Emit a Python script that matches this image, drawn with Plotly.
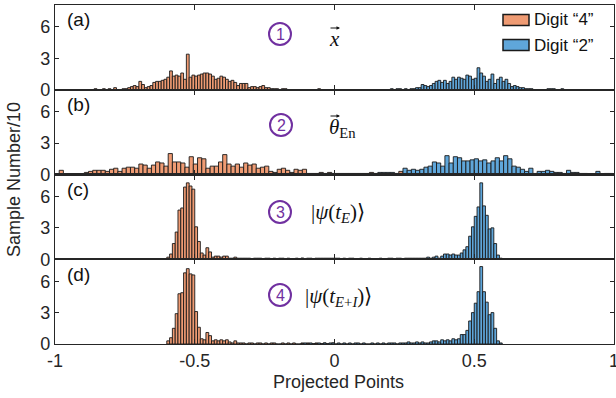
import plotly.graph_objects as go
from plotly.subplots import make_subplots

# ---------------- data (Sample Number / 10 per bin) ----------------
PANEL_LABELS = ["(a)", "(b)", "(c)", "(d)"]
CIRCLE_DIGITS = ["1", "2", "3", "4"]
SERIES_NAMES = ["Digit \u201c4\u201d", "Digit \u201c2\u201d"]
BIN_WIDTH = [0.01, 0.015, 0.01, 0.01]
X_TICKS = [-1, -0.5, 0, 0.5, 1]
X_TICK_TEXT = ["-1", "-0.5", "0", "0.5", "1"]
Y_TICKS = [0, 3, 6]

# panel (a)
A4_FIRST_EDGE = -0.86
A4 = [0.1, 0, 0, 0.1, 0, 0.1, 0, 0.2, 0, 0, 0.1, 0.1, 0.2, 0.3, 0.4, 0.3, 0.8, 0.5, 0.2, 0.3,
      0.4, 0.7, 0.8, 0.8, 0.9, 1.0, 1.2, 1.8, 1.3, 1.4, 1.3, 1.6, 1.0, 3.4, 1.2, 1.4, 1.3, 1.4,
      1.5, 1.6, 1.6, 1.5, 1.3, 1.0, 1.1, 1.3, 1.2, 1.0, 0.8, 0.9, 0.7, 0.4, 0.6, 0.6, 0.6, 0.2,
      0.3, 0.3, 0.2, 0.3, 0.4, 0.2, 0.2, 0.1, 0.1, 0.1, 0, 0.1, 0.1, 0, 0, 0, 0, 0, 0, 0, 0, 0,
      0, 0, 0.1]
A2_FIRST_EDGE = 0.20
A2 = [0.1, 0, 0.1, 0.1, 0, 0.1, 0, 0.1, 0.1, 0.2, 0.2, 0.5, 0.4, 0.3, 0.4, 0.6, 0.8, 0.9, 0.7,
      0.9, 0.6, 0.8, 1.2, 1.0, 1.2, 1.1, 1.0, 1.4, 1.3, 1.0, 1.1, 2.1, 1.6, 1.3, 0.8, 1.0, 1.5,
      0.6, 1.0, 1.2, 0.8, 1.0, 0.6, 0.3, 0.4, 0.3, 0.2, 0.2, 0.1, 0.1, 0.1, 0, 0, 0, 0, 0, 0.1,
      0.1, 0.1, 0, 0, 0.1]

# panel (b)
B4_FIRST_EDGE = -0.985
B4 = [0.4, 0, 0, 0, 0, 0, 0.2, 0.3, 0.4, 0.4, 0.4, 0.3, 0.5, 0.6, 0.3, 0.6, 0.7, 0.7, 0.6, 1.0,
      0.9, 0.6, 0.9, 1.2, 1.1, 0.8, 2.0, 1.2, 1.2, 1.1, 0.7, 1.7, 1.0, 1.6, 1.5, 0.6, 0.8, 0.8,
      1.2, 1.9, 1.0, 0.8, 1.0, 0.7, 1.1, 0.9, 1.0, 0.6, 0.7, 0.8, 0.3, 0.2, 0.5, 0.6, 0.4, 0.2,
      0.5, 0.4, 0.5, 0.1, 0.1, 0.1, 0.2, 0.1, 0.2, 0, 0, 0, 0, 0, 0, 0, 0, 0, 0.2, 0, 0, 0, 0,
      0, 0, 0.3]
B2_FIRST_EDGE = -0.01
B2 = [0.1, 0.1, 0.1, 0.1, 0.1, 0.1, 0.1, 0.1, 0.1, 0, 0.1, 0.2, 0.2, 0.2, 0.2, 0.1, 0.1, 0.6,
      0.4, 0.5, 0.4, 0.5, 0.7, 0.8, 1.2, 1.1, 0.8, 1.8, 1.1, 1.7, 1.6, 1.3, 1.3, 1.4, 1.5, 1.3,
      1.4, 1.1, 1.3, 1.6, 1.3, 1.8, 1.5, 0.8, 0.7, 0.5, 0.3, 0.6, 0.1, 0.3, 0.3, 0.4, 0.3, 0.2,
      0.2, 0.1, 0.4, 0.2, 0.2, 0.1, 0.1, 0, 0, 0.3, 0, 0.1, 0.1]

# panel (c)
C4_FIRST_EDGE = -0.60
C4 = [0.2, 0.5, 1.5, 2.6, 4.7, 4.9, 6.9, 7.3, 7.0, 6.7, 3.1, 1.7, 0.6, 0.4, 1.1, 0.7, 0.2, 0.3,
      0.3, 0.2, 0.3, 0.3, 0.1, 0.1, 0.2, 0.1, 0.1, 0.1, 0.1, 0.1, 0, 0.1, 0.1, 0.1, 0, 0.1, 0.1,
      0, 0.1, 0, 0.1, 0.1, 0, 0.1, 0, 0, 0.1, 0, 0.1, 0, 0, 0.1, 0, 0, 0.1, 0, 0, 0.1, 0, 0.1]
C2_FIRST_EDGE = -0.12
C2 = [0.1, 0, 0.1, 0, 0, 0.1, 0, 0.1, 0.1, 0, 0.1, 0, 0.1, 0.1, 0, 0.1, 0, 0.1, 0.1, 0, 0, 0.1,
      0, 0, 0.1, 0, 0, 0, 0.1, 0, 0, 0.1, 0.1, 0, 0.1, 0.1, 0, 0.1, 0.1, 0.1, 0.1, 0.1, 0.1, 0.1,
      0.1, 0.2, 0.1, 0.2, 0.3, 0.1, 0.3, 0.5, 0.5, 0.4, 0.5, 0.4, 0.4, 0.6, 0.9, 1.2, 2.2, 3.1,
      4.1, 5.0, 7.3, 5.1, 4.2, 2.9, 3.0, 1.5, 0.4, 0.1]

# panel (d)
D4_FIRST_EDGE = -0.60
D4 = [0.3, 0.6, 1.5, 2.9, 4.8, 4.9, 6.8, 7.2, 6.7, 6.6, 3.1, 1.6, 0.5, 0.4, 1.1, 0.8, 0.3, 0.4,
      0.3, 0.4, 0.3, 0.4, 0.2, 0.1, 0.3, 0.1, 0.1, 0.1, 0, 0.1, 0.1, 0, 0.1, 0.1, 0, 0.1, 0,
      0.1, 0.1, 0, 0, 0.1, 0, 0.1, 0, 0.1, 0, 0, 0.1, 0, 0.1, 0, 0, 0.1, 0, 0, 0.1, 0, 0, 0.1]
D2_FIRST_EDGE = -0.12
D2 = [0, 0.1, 0, 0.1, 0, 0, 0.1, 0, 0.1, 0, 0.1, 0.1, 0, 0.1, 0, 0.1, 0, 0.1, 0, 0.1, 0.1, 0,
      0.1, 0, 0, 0.1, 0, 0.1, 0, 0.1, 0, 0.1, 0.1, 0.1, 0, 0.1, 0.1, 0.1, 0.2, 0.1, 0.1, 0.2,
      0.1, 0.2, 0.1, 0.1, 0.2, 0.3, 0.3, 0.2, 0.4, 0.3, 0.4, 0.3, 0.5, 0.4, 0.5, 0.9, 0.9, 1.3,
      2.2, 3.0, 3.9, 5.0, 7.4, 5.0, 4.0, 2.8, 3.0, 1.5, 0.3, 0.1]

PANELS = [
    (A4_FIRST_EDGE, A4, A2_FIRST_EDGE, A2),
    (B4_FIRST_EDGE, B4, B2_FIRST_EDGE, B2),
    (C4_FIRST_EDGE, C4, C2_FIRST_EDGE, C2),
    (D4_FIRST_EDGE, D4, D2_FIRST_EDGE, D2),
]

# ---------------- style ----------------
W, H = 616, 398
ML, MR, MT, MB = 55, 2, 5, 54
ORANGE = "#EF9B73"
BLUE = "#5FA6DA"
EDGE = "#1a1a1a"
PURPLE = "#7030A0"
AXC = "#262626"
SANS = "Liberation Sans, Arial, sans-serif"
SERIF = "Liberation Serif, Times New Roman, serif"

PW = W - ML - MR
PH = H - MT - MB


def px(xp):
    return (xp - ML) / PW


def py(yp):
    return (H - MB - yp) / PH


fig = make_subplots(rows=4, cols=1, shared_xaxes=True, vertical_spacing=0)

for r, (e4, h4, e2, h2) in enumerate(PANELS, start=1):
    bw = BIN_WIDTH[r - 1]
    for edge, hs, col, name in ((e4, h4, ORANGE, SERIES_NAMES[0]), (e2, h2, BLUE, SERIES_NAMES[1])):
        xs = [edge + (i + 0.5) * bw for i in range(len(hs))]
        fig.add_trace(go.Bar(x=xs, y=hs, width=bw, name=name, showlegend=False,
                             marker=dict(color=col, line=dict(color=EDGE, width=0.9))),
                      row=r, col=1)

for r in range(1, 5):
    fig.update_xaxes(range=[-1, 1], tickvals=X_TICKS, ticktext=X_TICK_TEXT,
                     ticks="inside", ticklen=5, tickwidth=1, tickcolor=AXC,
                     showline=True, linecolor=AXC, linewidth=1.2, mirror="ticks",
                     showgrid=False, zeroline=False, showticklabels=(r == 4),
                     automargin=False, ticklabeloverflow="allow",
                     tickfont=dict(family=SANS, size=18, color=AXC), row=r, col=1)
    fig.update_yaxes(range=[0, 8.1], tickvals=Y_TICKS, ticks="inside", ticklen=4,
                     tickwidth=1, tickcolor=AXC, showline=True, linecolor=AXC, linewidth=1.2,
                     mirror="ticks", showgrid=False, zeroline=False, automargin=False,
                     tickfont=dict(family=SANS, size=18, color=AXC), row=r, col=1)

ann = []
shapes = []

# panel labels
for i, (lab, yc) in enumerate(zip(PANEL_LABELS, [19, 104, 189, 274])):
    ann.append(dict(x=px(65), y=py(yc), xref="paper", yref="paper", text=lab, showarrow=False,
                    xanchor="left", yanchor="middle", font=dict(family=SANS, size=19, color="#111")))

# circled numbers
for d, (cx, cy) in zip(CIRCLE_DIGITS, [(280, 34), (281, 125), (280, 212), (280, 295)]):
    r_ = 11
    shapes.append(dict(type="circle", xref="paper", yref="paper",
                       x0=px(cx - r_), x1=px(cx + r_), y0=py(cy + r_), y1=py(cy - r_),
                       line=dict(color=PURPLE, width=2)))
    ann.append(dict(x=px(cx), y=py(cy), xref="paper", yref="paper", text=d, showarrow=False,
                    xanchor="center", yanchor="middle", font=dict(family=SANS, size=16, color=PURPLE)))

# math labels
ann.append(dict(x=px(334), y=py(39), xref="paper", yref="paper", text="<i>x</i>", showarrow=False,
                xanchor="center", yanchor="middle", font=dict(family=SERIF, size=21, color="#111")))
ann.append(dict(x=px(327), y=py(128), xref="paper", yref="paper", text="<i>\u03b8</i><sub>En</sub>",
                showarrow=False, xanchor="left", yanchor="middle",
                font=dict(family=SERIF, size=21, color="#111")))
# vector arrows above x and theta
for (hx, hy) in ((340, 28), (340, 116)):
    ann.append(dict(x=px(hx), y=py(hy), xref="paper", yref="paper", text="", showarrow=True,
                    ax=-11, ay=0, axref="pixel", ayref="pixel", arrowhead=2, arrowsize=0.7,
                    arrowwidth=1, arrowcolor="#111", standoff=0, startstandoff=0))
ann.append(dict(x=px(309), y=py(213), xref="paper", yref="paper",
                text="|<i>\u03c8</i>(<i>t</i><sub><i>E</i></sub>)\u27e9", showarrow=False,
                xanchor="left", yanchor="middle", font=dict(family=SERIF, size=21, color="#111")))
ann.append(dict(x=px(303), y=py(297), xref="paper", yref="paper",
                text="|<i>\u03c8</i>(<i>t</i><sub><i>E</i>+<i>I</i></sub>)\u27e9", showarrow=False,
                xanchor="left", yanchor="middle", font=dict(family=SERIF, size=21, color="#111")))

# custom legend
for (name, col, yc) in ((SERIES_NAMES[0], ORANGE, 20), (SERIES_NAMES[1], BLUE, 45)):
    shapes.append(dict(type="rect", xref="paper", yref="paper",
                       x0=px(503), x1=px(529), y0=py(yc + 5.5), y1=py(yc - 5.5),
                       fillcolor=col, line=dict(color=EDGE, width=1.5)))
    ann.append(dict(x=px(532), y=py(yc), xref="paper", yref="paper", text=name, showarrow=False,
                    xanchor="left", yanchor="middle", font=dict(family=SANS, size=17, color="#111")))

# axis titles
ann.append(dict(x=px(14), y=py(180), xref="paper", yref="paper", text="Sample Number/10",
                textangle=-90, showarrow=False, xanchor="center", yanchor="middle",
                font=dict(family=SANS, size=18, color=AXC)))
ann.append(dict(x=px(338), y=py(382), xref="paper", yref="paper", text="Projected Points",
                showarrow=False, xanchor="center", yanchor="middle",
                font=dict(family=SANS, size=18, color=AXC)))

fig.update_layout(width=W, height=H, autosize=False,
                  margin=dict(l=ML, r=MR, t=MT, b=MB, autoexpand=False),
                  barmode="overlay", bargap=0, plot_bgcolor="white", paper_bgcolor="white",
                  annotations=ann, shapes=shapes, showlegend=False, hovermode=False,
                  font=dict(family=SANS, color=AXC))

POST = ("document.body.style.margin='0px';document.body.style.padding='0px';"
        "var gd=document.getElementById('{plot_id}');gd.style.width='616px';"
        "gd.style.height='398px';Plotly.relayout(gd,{width:616,height:398});")

fig.write_html("out.html", post_script=POST,
               config={"responsive": False, "displayModeBar": False, "staticPlot": True})
